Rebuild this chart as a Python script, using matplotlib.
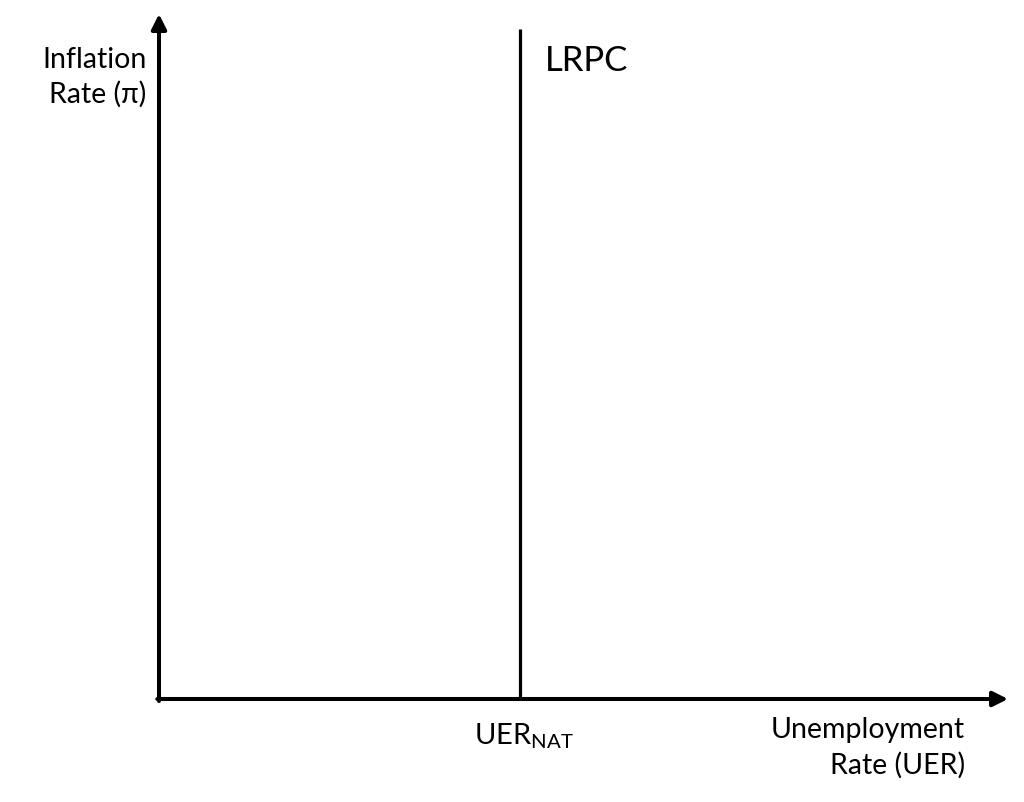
import matplotlib
matplotlib.use("Agg")
import matplotlib.pyplot as plt

plt.rcParams["font.family"] = ["Lato", "DejaVu Sans"]
plt.rcParams["mathtext.fontset"] = "custom"
plt.rcParams["mathtext.rm"] = "Lato"

# conceptual axes (0..10 on both)
x_max = 10.0
y_max = 10.0
uer_nat = 4.25        # natural rate of unemployment
lrpc_top = 9.78       # top of the vertical long-run Phillips curve

C_LINE = "black"

fig = plt.figure(figsize=(10.24, 8.03), dpi=100)
ax = fig.add_axes([159 / 1024, 103 / 803, 849 / 1024, 685 / 803])
ax.set_xlim(0, x_max)
ax.set_ylim(0, y_max)
ax.axis("off")

arrow = dict(arrowstyle="-|>,head_length=0.9,head_width=0.45", color=C_LINE,
             lw=2.9, shrinkA=0, shrinkB=0)
ax.annotate("", xy=(x_max, 0), xytext=(-0.02, 0), arrowprops=arrow)
ax.annotate("", xy=(0, y_max), xytext=(0, -0.03), arrowprops=arrow)

# LRPC
ax.plot([uer_nat, uer_nat], [0, lrpc_top], color=C_LINE, lw=2.3, solid_capstyle="butt")
ax.text(uer_nat + 0.29, lrpc_top - 0.45, "LRPC", fontsize=25, ha="left", va="center")

# labels
ax.text(-0.15, 9.09, "Inflation\nRate (π)", fontsize=20.5, ha="right", va="center",
        linespacing=1.4)
ax.text(9.49, -0.70, "Unemployment\nRate (UER)", fontsize=20.5, ha="right", va="center",
        linespacing=1.4)
ax.text(uer_nat + 0.05, -0.53, r"UER$_{\mathrm{NAT}}$", fontsize=21, ha="center", va="center")

fig.savefig("out.png", dpi=100, facecolor="white")
